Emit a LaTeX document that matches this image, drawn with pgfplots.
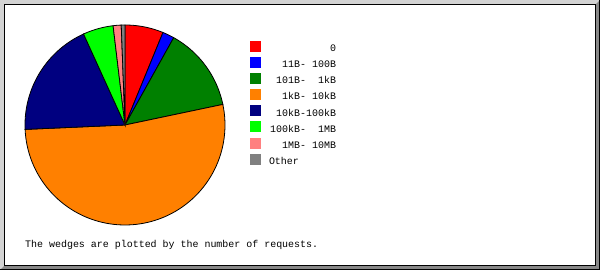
\documentclass[border=0pt]{standalone}
\usepackage{fontspec}
\setmonofont{Liberation Mono}
\usepackage{pgfplots}
\pgfplotsset{compat=1.18}
\definecolor{wred}{HTML}{FF0000}
\definecolor{wblue}{HTML}{0000FF}
\definecolor{wgreen}{HTML}{008000}
\definecolor{worange}{HTML}{FF8000}
\definecolor{wnavy}{HTML}{000080}
\definecolor{wlime}{HTML}{00FF00}
\definecolor{wpink}{HTML}{FF8080}
\definecolor{wgray}{HTML}{808080}
\definecolor{bevlight}{HTML}{D3D3D3}
\definecolor{bevdark}{HTML}{888888}
% slice: start percentage, percentage, colour
\newcommand{\pieslice}[3]{%
  \pgfmathsetmacro\sa{3.6*(#1)}%
  \pgfmathsetmacro\sb{3.6*(#1+#2)}%
  \addplot[draw=black, line width=0.8bp, fill=#3, domain=\sa:\sb, samples=80, variable=\t]
    ({sin(\t)},{cos(\t)}) -- (axis cs:0,0) -- cycle;
}
\newcommand{\lbl}[1]{\makebox[67bp][r]{#1}}
\begin{document}
\begin{tikzpicture}
\useasboundingbox (0,0) rectangle (600bp,270bp);
\fill[bevlight] (0,0) rectangle (600bp,270bp);
\fill[bevdark] (0,0) -- (600bp,0) -- (600bp,270bp) -- (596bp,266bp) -- (596bp,4bp) -- (4bp,4bp) -- cycle;
\draw[black, line width=1bp] (0,0.5bp) -- (599.5bp,0.5bp) -- (599.5bp,270bp);
\fill[white] (4bp,4bp) rectangle (596bp,266bp);
\draw[black, line width=1bp] (4.5bp,4.5bp) rectangle (595.5bp,265.5bp);
\begin{axis}[
  at={(25bp,45bp)}, anchor=south west,
  scale only axis, width=200bp, height=200bp,
  xmin=-1, xmax=1, ymin=-1, ymax=1,
  hide axis, clip=false,
  legend cell align=left,
  legend image code/.code={\fill[#1, draw=none] (0bp,-2bp) rectangle (11bp,9bp);},
  legend style={at={(1.125,0.922)}, anchor=north west, draw=none, fill=none,
    inner sep=0pt, outer sep=0pt, row sep=0pt,
    font=\ttfamily\fontsize{10}{10}\selectfont,
    nodes={inner sep=0pt, text height=9bp, text depth=5.3bp},
    /tikz/every odd column/.append style={column sep=8bp}},
]
\pieslice{0}{6.2}{wred}      \addlegendentry{\lbl{0}}
\pieslice{6.2}{1.9}{wblue}   \addlegendentry{\lbl{11B- 100B}}
\pieslice{8.1}{13.6}{wgreen} \addlegendentry{\lbl{101B-~~1kB}}
\pieslice{21.7}{52.6}{worange} \addlegendentry{\lbl{1kB- 10kB}}
\pieslice{74.3}{18.9}{wnavy} \addlegendentry{\lbl{10kB-100kB}}
\pieslice{93.2}{4.9}{wlime}  \addlegendentry{\lbl{100kB-~~1MB}}
\pieslice{98.1}{1.3}{wpink}  \addlegendentry{\lbl{1MB- 10MB}}
\pieslice{99.4}{0.6}{wgray}  \addlegendentry{Other}
\end{axis}
\node[anchor=base west, inner sep=0pt, font=\ttfamily\fontsize{10}{12}\selectfont] at (25bp,23bp) {The wedges are plotted by the number of requests.};
\end{tikzpicture}
\end{document}
